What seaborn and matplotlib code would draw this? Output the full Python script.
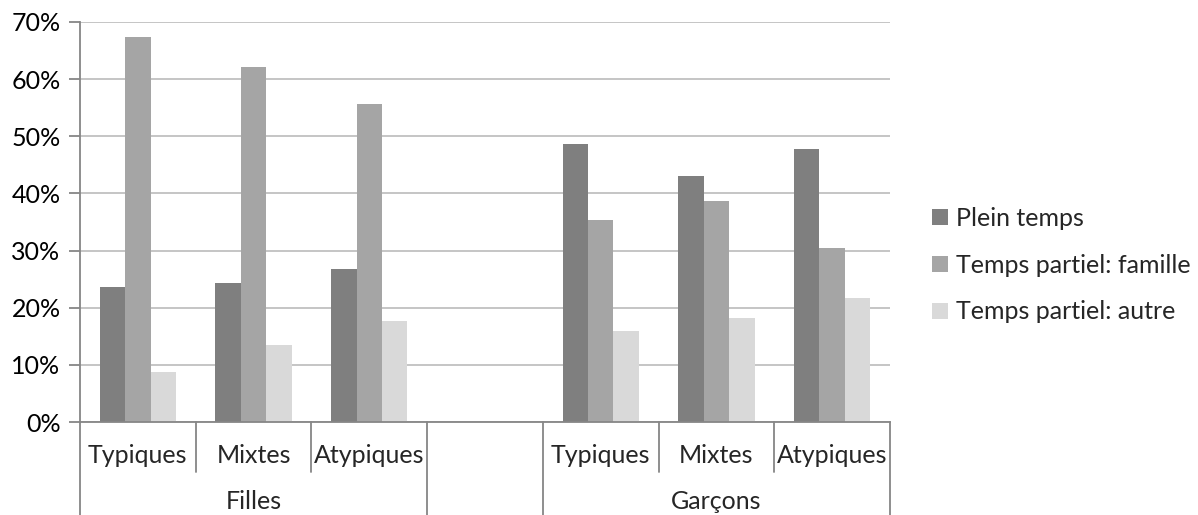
import matplotlib
matplotlib.use("Agg")
import matplotlib.pyplot as plt
import matplotlib.transforms as mtransforms
from matplotlib.ticker import MultipleLocator, PercentFormatter
import seaborn as sns
import pandas as pd

# Categories (inner level) and groups (outer level)
slots = ["F-Typiques", "F-Mixtes", "F-Atypiques", "vide", "G-Typiques", "G-Mixtes", "G-Atypiques"]
slot_labels = ["Typiques", "Mixtes", "Atypiques", "", "Typiques", "Mixtes", "Atypiques"]
groups = ["Filles", "Garçons"]
group_centers = [1, 5]

series = ["Plein temps", "Temps partiel: famille", "Temps partiel: autre"]
plein_temps = [0.236, 0.243, 0.268, None, 0.487, 0.430, 0.478]
partiel_famille = [0.674, 0.621, 0.556, None, 0.354, 0.387, 0.304]
partiel_autre = [0.088, 0.135, 0.176, None, 0.159, 0.182, 0.217]

colors = ["#7f7f7f", "#a5a5a5", "#d9d9d9"]

rows = []
for name, vals in zip(series, [plein_temps, partiel_famille, partiel_autre]):
    for slot, v in zip(slots, vals):
        if v is not None:
            rows.append({"slot": slot, "serie": name, "valeur": v})
df = pd.DataFrame(rows)

sns.set_style("white")
plt.rcParams["font.family"] = ["Lato", "DejaVu Sans"]
FS = 18

fig = plt.figure(figsize=(11.98, 5.15), dpi=100)
ax = fig.add_axes([80 / 1198, 93 / 515, 810 / 1198, 400 / 515])

sns.barplot(data=df, x="slot", y="valeur", hue="serie", order=slots,
            hue_order=series, palette=colors, saturation=1, width=0.66,
            linewidth=0, edgecolor="none", errorbar=None, ax=ax)

ax.set_xlim(-0.5, 6.5)
ax.set_ylim(0, 0.7)
ax.yaxis.set_major_locator(MultipleLocator(0.1))
ax.yaxis.set_major_formatter(PercentFormatter(1.0, decimals=0))
ax.grid(axis="y", color="#c0c0c0", linewidth=1.3)
ax.set_axisbelow(True)
ax.set_xlabel("")
ax.set_ylabel("")
ax.set_xticks([])

for side in ["top", "right"]:
    ax.spines[side].set_visible(False)
for side in ["left", "bottom"]:
    ax.spines[side].set_color("#868686")
    ax.spines[side].set_linewidth(1.3)

ax.tick_params(axis="y", which="major", direction="out", length=8, width=1.3,
               color="#868686", labelsize=FS, pad=6, labelcolor="#000000", left=True)

# Two-level category axis
trans = mtransforms.blended_transform_factory(ax.transData, ax.transAxes)
outer = [-0.5, 2.5, 3.5, 6.5]
inner = [0.5, 1.5, 4.5, 5.5]
for xb in outer:
    ax.plot([xb, xb], [0, -0.235], transform=trans, color="#868686",
            linewidth=1.3, clip_on=False)
for xb in inner:
    ax.plot([xb, xb], [0, -0.125], transform=trans, color="#868686",
            linewidth=1.3, clip_on=False)
for i, lab in enumerate(slot_labels):
    ax.text(i, -0.083, lab, transform=trans, ha="center", va="center", fontsize=FS)
for xc, g in zip(group_centers, groups):
    ax.text(xc, -0.198, g, transform=trans, ha="center", va="center", fontsize=FS)

handles, labels = ax.get_legend_handles_labels()
ax.legend(handles, labels, loc="center left", bbox_to_anchor=(1.052, 0.392),
          frameon=False, fontsize=FS, handlelength=0.62, handleheight=0.62,
          handletextpad=0.35, labelspacing=0.95, borderaxespad=0, borderpad=0)

fig.savefig("out.png", dpi=100)
